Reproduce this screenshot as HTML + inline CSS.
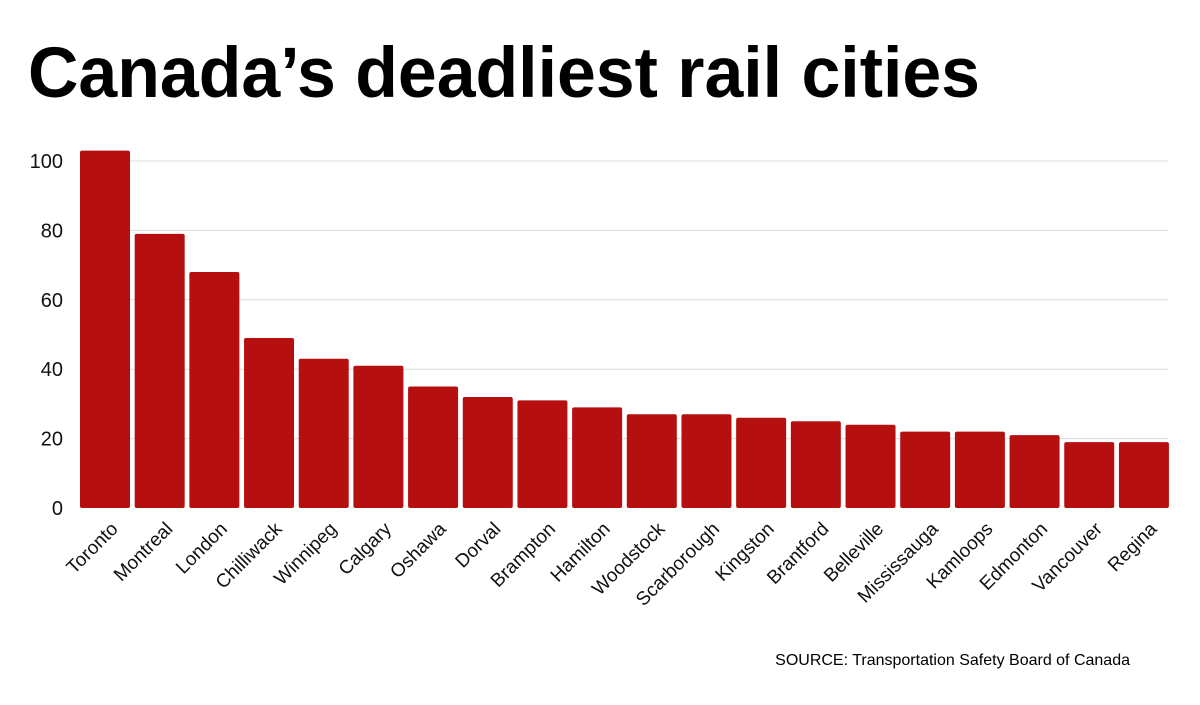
<!DOCTYPE html>
<html><head><meta charset="utf-8"><style>
body{margin:0;background:#fff;width:1200px;height:700px;overflow:hidden;font-family:"Liberation Sans",sans-serif}
</style></head><body>
<svg width="1200" height="700" id="svg">
<text x="28" y="97" font-size="71" font-weight="bold" fill="#000" textLength="952" lengthAdjust="spacingAndGlyphs" font-family="Liberation Sans, sans-serif">Canada’s deadliest rail cities</text>
<text x="1130" y="665" font-size="16" text-anchor="end" fill="#000">SOURCE: Transportation Safety Board of Canada</text>
<g id="grid"></g><g id="bars"></g><g id="xl"></g>
</svg>
<script>
const categories=["Toronto","Montreal","London","Chilliwack","Winnipeg","Calgary","Oshawa","Dorval","Brampton","Hamilton","Woodstock","Scarborough","Kingston","Brantford","Belleville","Mississauga","Kamloops","Edmonton","Vancouver","Regina"];
const values=[103,79,68,49,43,41,35,32,31,29,27,27,26,25,24,22,22,21,19,19];
const ticks=[0,20,40,60,80,100];
const ns="http://www.w3.org/2000/svg";
const y0=508,y100=161,left=80,step=54.68,bw=50,right=1168;
const y=v=>y0-(y0-y100)*v/100;
const x=i=>left+i*step;
function mk(t,a,p){const e=document.createElementNS(ns,t);for(const k in a)e.setAttribute(k,a[k]);document.getElementById(p).appendChild(e);return e;}
ticks.forEach(t=>{
  if(t>0){const l=mk('line',{x1:left,x2:right,y1:y(t),y2:y(t),stroke:'#dcdcdc','stroke-width':1},'grid');
  
  }
  const tx=mk('text',{x:63,y:y(t)+7,'text-anchor':'end','font-size':20,fill:'#111'},'grid');
  tx.textContent=t;
  
  
});
values.forEach((v,i)=>{
  const r=mk('rect',{x:x(i),y:y(v),width:bw,height:y0-y(v),rx:2,fill:'#b50f0f'},'bars');
  
  
  const cx=x(i)+bw/2+14,cy=y0+22;
  const t=mk('text',{x:cx,y:cy,'text-anchor':'end','font-size':19,fill:'#111',transform:`rotate(-45 ${cx} ${cy})`},'xl');
  t.textContent=categories[i];
  
  
});
</script>
</body></html>
